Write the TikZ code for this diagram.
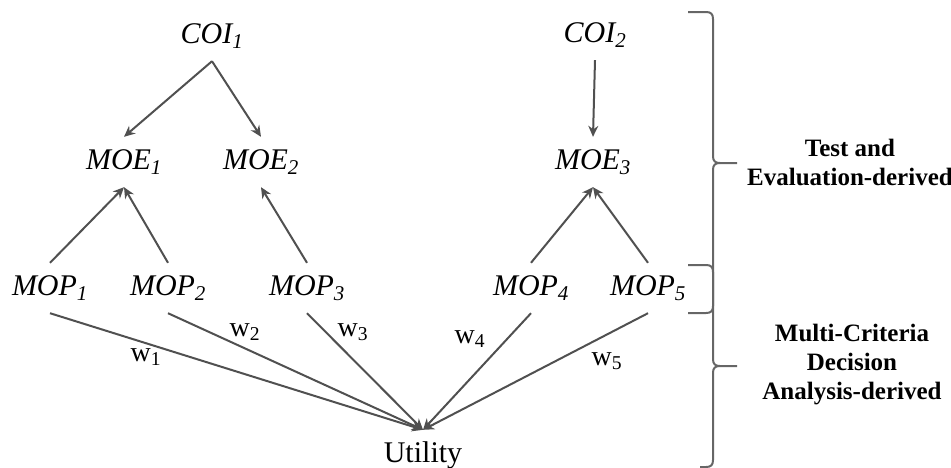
\documentclass[tikz,border=0pt]{standalone}
\usepackage{fontspec}
\setmainfont{Liberation Serif}
\usetikzlibrary{arrows.meta}
\definecolor{linegray}{HTML}{505050}
\definecolor{bracegray}{HTML}{666666}
\tikzset{
  box/.style={inner sep=0pt, minimum height=50pt, font=\fontsize{30}{36}\selectfont\itshape},
  utilbox/.style={inner sep=0pt, minimum height=50pt, font=\fontsize{30}{36}\selectfont},
  arr/.style={draw=linegray, line width=2pt, -{Stealth[length=11pt,width=10pt]}},
  wlab/.style={inner sep=0pt, font=\fontsize{28}{32}\selectfont},
  side/.style={inner sep=0pt, align=center, font=\fontsize{25}{29}\selectfont\bfseries},
  brc/.style={draw=bracegray, line width=2pt}
}
\begin{document}
\begin{tikzpicture}[x=1pt,y=-1pt]
\useasboundingbox (0,0) rectangle (951,467);
% nodes
\node[box] (coi1) at (212,36) {COI\textsubscript{1}};
\node[box] (coi2) at (595,35) {COI\textsubscript{2}};
\node[box] (moe1) at (124,162) {MOE\textsubscript{1}};
\node[box] (moe2) at (261,162) {MOE\textsubscript{2}};
\node[box] (moe3) at (593,162) {MOE\textsubscript{3}};
\node[box] (mop1) at (50,288) {MOP\textsubscript{1}};
\node[box] (mop2) at (168,288) {MOP\textsubscript{2}};
\node[box] (mop3) at (307,288) {MOP\textsubscript{3}};
\node[box] (mop4) at (531,288) {MOP\textsubscript{4}};
\node[box] (mop5) at (648,288) {MOP\textsubscript{5}};
\node[utilbox] (util) at (423,455) {Utility};
% connectors
\draw[arr] (coi1.south) -- (moe1.north);
\draw[arr] (coi1.south) -- (moe2.north);
\draw[arr] (coi2.south) -- (moe3.north);
\draw[arr] (mop1.north) -- (moe1.south);
\draw[arr] (mop2.north) -- (moe1.south);
\draw[arr] (mop3.north) -- (moe2.south);
\draw[arr] (mop4.north) -- (moe3.south);
\draw[arr] (mop5.north) -- (moe3.south);
\draw[arr] (mop1.south) -- (util.north);
\draw[arr] (mop2.south) -- (util.north);
\draw[arr] (mop3.south) -- (util.north);
\draw[arr] (mop4.south) -- (util.north);
\draw[arr] (mop5.south) -- (util.north);
% weights
\node[wlab] (w1) at (146,357) {w\textsubscript{1}};
\node[wlab] (w2) at (245,332) {w\textsubscript{2}};
\node[wlab] (w3) at (353,332) {w\textsubscript{3}};
\node[wlab] (w4) at (470,339) {w\textsubscript{4}};
\node[wlab] (w5) at (607,361) {w\textsubscript{5}};
% braces
\draw[brc] (688,12) -- (706,12) .. controls (711,12) and (713,14) .. (713,19) -- (713,156)
  .. controls (713,161) and (715,163) .. (720,163) -- (737,163);
\draw[brc] (720,163) .. controls (715,163) and (713,165) .. (713,170) -- (713,306)
  .. controls (713,311) and (711,313) .. (706,313) -- (688,313);
\draw[brc] (688,265) -- (706,265) .. controls (711,265) and (713,267) .. (713,272) -- (713,359)
  .. controls (713,364) and (715,366) .. (720,366) -- (737,366);
\draw[brc] (720,366) .. controls (715,366) and (713,368) .. (713,373) -- (713,460)
  .. controls (713,465) and (711,467) .. (706,467) -- (700,467);
% side labels
\node[side] (te) at (850,162) {Test and\\Evaluation-derived};
\node[side] (mc) at (852,365) {Multi-Criteria\\Decision\\Analysis-derived};
\end{tikzpicture}
\end{document}
